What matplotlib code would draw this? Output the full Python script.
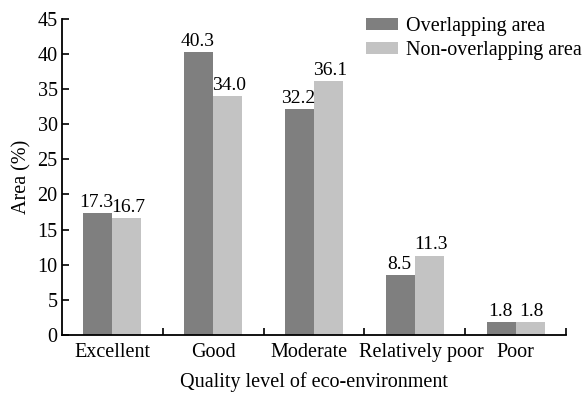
import numpy as np
import matplotlib.pyplot as plt
from matplotlib.transforms import ScaledTranslation

plt.rcParams['font.family'] = ['Liberation Serif', 'DejaVu Serif']

categories = ['Excellent', 'Good', 'Moderate', 'Relatively poor', 'Poor']
overlap = [17.3, 40.3, 32.2, 8.5, 1.8]
non_overlap = [16.7, 34.0, 36.1, 11.3, 1.8]

fs = 14.5

fig = plt.figure(figsize=(5.88, 3.94), dpi=100)
ax = fig.add_axes([0.105, 0.15, 0.858, 0.802])

x = np.arange(len(categories))
w = 0.285
b1 = ax.bar(x - w/2, overlap, w, color='#7f7f7f', label='Overlapping area')
b2 = ax.bar(x + w/2, non_overlap, w, color='#c3c3c3', label='Non-overlapping area')

for bars, vals, dx in ((b1, overlap, -1.5), (b2, non_overlap, 1.5)):
    for r, v in zip(bars, vals):
        t = ax.text(r.get_x() + r.get_width()/2, v + 0.3, '%.1f' % v,
                    ha='center', va='bottom', fontsize=14)
        t.set_transform(t.get_transform() + ScaledTranslation(dx / 100, 0, fig.dpi_scale_trans))

ax.set_xlim(-0.5, 4.5)
ax.set_ylim(0, 45)
ax.set_yticks(range(0, 46, 5))
ax.set_xticks(x)
ax.set_xticklabels(categories, fontsize=fs)
ax.set_xticks(np.arange(0.5, 4.6, 1), minor=True)
ax.tick_params(axis='x', which='major', length=0, pad=6)
ax.tick_params(axis='x', which='minor', direction='in', length=5, width=1.2)
ax.tick_params(axis='y', direction='in', length=5, width=1.2, labelsize=fs, pad=3)

# nudge crowded labels apart
shifts = [0, 0, -5, 6, 0]
for lab, dx in zip(ax.get_xticklabels(), shifts):
    lab.set_transform(lab.get_transform() + ScaledTranslation(dx / 100, 0, fig.dpi_scale_trans))

ax.spines['top'].set_visible(False)
ax.spines['right'].set_visible(False)
ax.spines['left'].set_linewidth(1.3)
ax.spines['bottom'].set_linewidth(1.3)

ax.set_ylabel('Area (%)', fontsize=fs, labelpad=4)
ax.set_xlabel('Quality level of eco-environment', fontsize=fs, labelpad=7)
ax.legend(loc='upper right', bbox_to_anchor=(1.067, 1.063), frameon=False,
          fontsize=fs, handlelength=1.6, handleheight=0.6, labelspacing=0.25,
          handletextpad=0.4)

fig.savefig('out.png', dpi=100)
